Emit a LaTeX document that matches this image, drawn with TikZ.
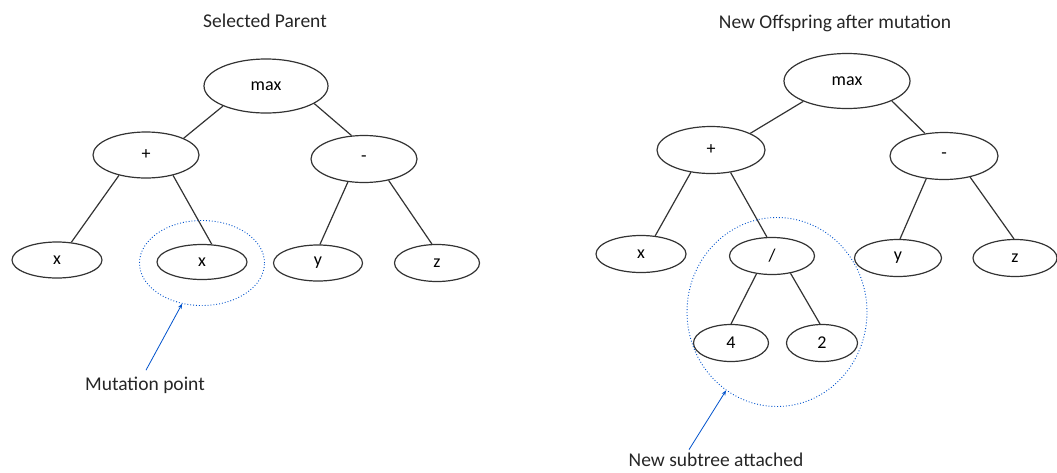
\documentclass[tikz,border=0pt]{standalone}
\usepackage{fontspec}
\setmainfont{Carlito}
\usetikzlibrary{shapes.geometric,arrows.meta}
\begin{document}
\begin{tikzpicture}[x=1pt,y=-1pt,
  tnode/.style={ellipse,draw=black!80,line width=1.2pt,inner sep=0pt,
    font=\fontsize{18}{20}\selectfont},
  edge/.style={draw=black!80,line width=1.2pt},
  marker/.style={draw=blue!60!cyan!80!black,dotted,line width=0.9pt},
  pointer/.style={draw=blue!60!cyan!80!black,line width=0.8pt,-{Stealth[length=5pt,width=4pt]}},
  caption/.style={font=\fontsize{19.5}{22}\selectfont,text=black!85}]
\useasboundingbox (0,0) rectangle (1057,472);

% ---- left tree: selected parent ----
\node[caption] (t1) at (265,21) {Selected Parent};
\node[tnode,minimum width=124pt,minimum height=54pt] (m1) at (266,86) {max};
\node[tnode,minimum width=106pt,minimum height=46pt] (p1) at (146,155) {+};
\node[tnode,minimum width=106pt,minimum height=47pt] (s1) at (364,159) {-};
\node[tnode,minimum width=90pt,minimum height=36pt] (xa) at (57,260) {x};
\node[tnode,minimum width=90pt,minimum height=35pt] (xb) at (202,262) {x};
\node[tnode,minimum width=89pt,minimum height=36pt] (ya) at (318,263) {y};
\node[tnode,minimum width=85pt,minimum height=37pt] (za) at (437,263) {z};
\draw[edge] (m1.205) -- (p1.24);
\draw[edge] (m1.340) -- (s1.118);
\draw[edge] (p1.217) -- (xa.51);
\draw[edge] (p1.323) -- (xb.61);
\draw[edge] (s1.235) -- (ya.84);
\draw[edge] (s1.319) -- (za.105);
\node[ellipse,marker,minimum width=125pt,minimum height=85pt] (c1) at (202,263) {};
\node[caption] (l1) at (145,385) {Mutation point};
\draw[pointer] (l1.north) ++(1,-3) coordinate (a1) (a1) -- (c1.244);

% ---- right tree: offspring after mutation ----
\node[caption] (t2) at (835,23) {New Offspring after mutation};
\node[tnode,minimum width=126pt,minimum height=55pt] (m2) at (847,81) {max};
\node[tnode,minimum width=108pt,minimum height=47pt] (p2) at (711,150) {+};
\node[tnode,minimum width=108pt,minimum height=47pt] (s2) at (944,156) {-};
\node[tnode,minimum width=90pt,minimum height=37pt] (xc) at (641,254) {x};
\node[tnode,minimum width=85pt,minimum height=37pt] (dv) at (772,256) {/};
\node[tnode,minimum width=87pt,minimum height=37pt] (yb) at (898,258) {y};
\node[tnode,minimum width=84pt,minimum height=37pt] (zb) at (1015,258) {z};
\node[tnode,minimum width=75pt,minimum height=37pt] (n4) at (731,343) {4};
\node[tnode,minimum width=71pt,minimum height=37pt] (n2) at (822,343) {2};
\draw[edge] (m2.205) -- (p2.23);
\draw[edge] (m2.336) -- (s2.130);
\draw[edge] (p2.228) -- (xc.52);
\draw[edge] (p2.311) -- (dv.105);
\draw[edge] (s2.232) -- (yb.84);
\draw[edge] (s2.321) -- (zb.93);
\draw[edge] (dv.229) -- (n4.90);
\draw[edge] (dv.317) -- (n2.96);
\node[ellipse,marker,minimum width=180pt,minimum height=189pt] (c2) at (777,312) {};
\node[caption] (l2) at (716,460) {New subtree attached};
\draw[pointer] (l2.north) ++(-27,0) coordinate (a2) (a2) -- (c2.237);
\end{tikzpicture}
\end{document}
